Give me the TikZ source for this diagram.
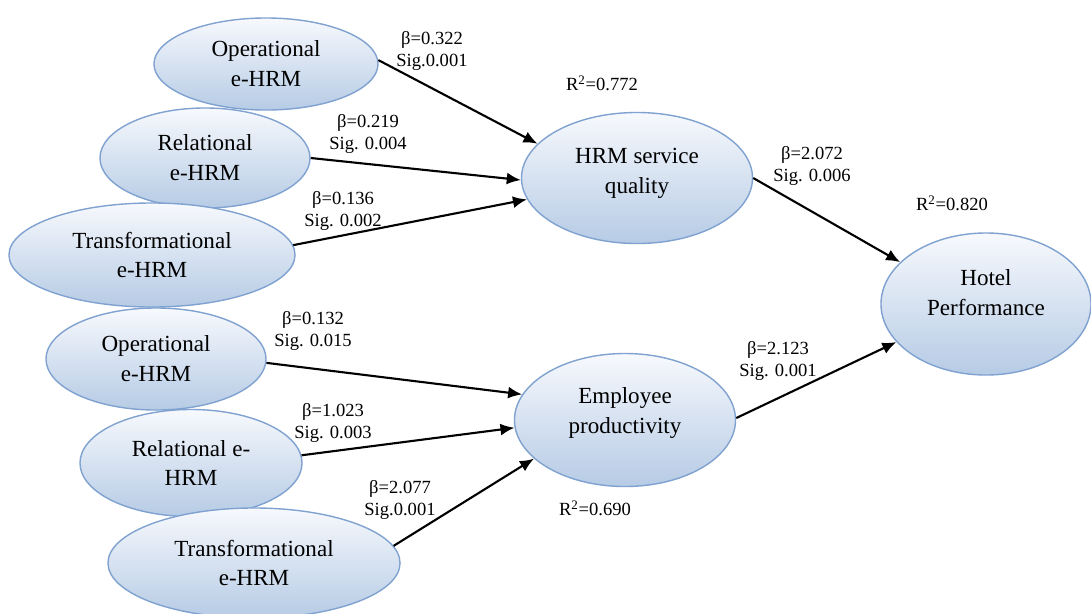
\documentclass[tikz,border=0pt]{standalone}
\usepackage{fontspec}
\setmainfont{Liberation Serif}
\usetikzlibrary{arrows.meta,shapes.geometric}
\definecolor{ellTop}{RGB}{247,249,253}
\definecolor{ellBot}{RGB}{182,203,229}
\definecolor{ellLine}{RGB}{128,162,208}

\begin{document}
\begin{tikzpicture}[x=0.025cm,y=-0.025cm,-{Latex[length=10pt,width=8.5pt]},line width=1.5pt,
    construct/.style={ellipse,draw=ellLine,line width=1pt,top color=ellTop,bottom color=ellBot,inner sep=0pt,align=center,font=\fontsize{16.4}{21.3}\selectfont},
    coef/.style={align=center,inner sep=0pt,font=\fontsize{13.2}{15.6}\selectfont},
    rsq/.style={inner sep=0pt,font=\fontsize{13.2}{15.6}\selectfont}]
    \useasboundingbox (0,0) rectangle (1091,613);

    \node[construct,minimum width=5.6cm,minimum height=2.3cm] (operational1) at (266,64) {Operational\\e-HRM};
    \node[construct,minimum width=5.25cm,minimum height=2.5cm] (relational1) at (205,158) {Relational\\e-HRM};
    \node[construct,minimum width=7.15cm,minimum height=2.6cm] (transformational1) at (152,255) {Transformational\\e-HRM};
    \node[construct,minimum width=5.775cm,minimum height=3.275cm,text depth=9.5pt] (service) at (637,178) {HRM service\\quality};
    \node[construct,minimum width=5.25cm,minimum height=3.55cm,text depth=17pt] (performance) at (986,304) {Hotel\\Performance};
    \node[construct,minimum width=5.525cm,minimum height=3.325cm,text depth=13pt] (productivity) at (625,420) {Employee\\productivity};
    \node[construct,minimum width=5.5cm,minimum height=2.55cm] (operational2) at (156,359) {Operational\\e-HRM};
    \node[construct,minimum width=5.55cm,minimum height=2.675cm] (relational2) at (191,463) {Relational e-\\HRM};
    \node[construct,minimum width=7.3cm,minimum height=2.75cm] (transformational2) at (254,563) {Transformational\\e-HRM};

    % path coefficients
    \node[coef] (coefop1) at (432,51) {β=0.322\\Sig.0.001};
    \node[coef] (coefrel1) at (368,134) {β=0.219\\Sig. 0.004};
    \node[coef] (coeftr1) at (343,211) {β=0.136\\Sig. 0.002};
    \node[coef] (coefserv) at (812,166) {β=2.072\\Sig. 0.006};
    \node[coef] (coefop2) at (313,331) {β=0.132\\Sig. 0.015};
    \node[coef] (coefrel2) at (333,423) {β=1.023\\Sig. 0.003};
    \node[coef] (coeftr2) at (400,500) {β=2.077\\Sig.0.001};
    \node[coef] (coefprod) at (778,361) {β=2.123\\Sig. 0.001};

    \node[rsq] (rserv) at (602,83) {R\textsuperscript{2}=0.772};
    \node[rsq] (rperf) at (952,203) {R\textsuperscript{2}=0.820};
    \node[rsq] (rprod) at (595,508) {R\textsuperscript{2}=0.690};

    \path
        (operational1.2) edge (service.161)
        (relational1.east) edge (service.181)
        (transformational1.4) edge (service.191)
        (service.east) edge (performance.154)
        (operational2.-2) edge (productivity.166)
        (relational2.4) edge (productivity.184)
        (transformational2.7) edge (productivity.203)
        (productivity.1) edge (performance.203)
    ;
\end{tikzpicture}
\end{document}
